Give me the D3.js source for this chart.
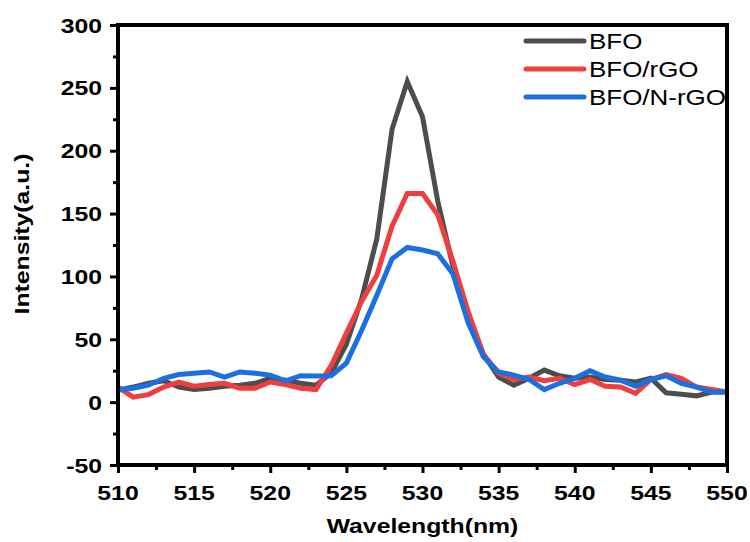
<!DOCTYPE html>
<html>
<head>
<meta charset="utf-8">
<script src="https://cdn.jsdelivr.net/npm/d3@7"></script>
<style>
  html, body { margin: 0; padding: 0; background: #fff; }
  svg { display: block; }
  text { font-family: "Liberation Sans", Arial, sans-serif; }
</style>
</head>
<body>
<script>
// Wavelength grid (nm) and measured intensities for each sample
const wavelength = d3.range(510, 551, 1);

const bfo = [
  9.5, 12, 15, 17, 12, 10, 11, 12.7, 13.5, 15,
  19, 17.5, 15, 13.5, 23, 46, 82, 130, 217, 255,
  227, 160, 108, 68, 38, 20, 13.5, 19, 25.5, 21,
  19, 20, 18, 17.5, 16, 19, 7.4, 6.3, 5, 8, 8
];
const bfoRgo = [
  12, 4, 6, 12, 16, 12.7, 14, 15, 11, 11,
  16, 14, 11, 10, 29, 55, 80, 101, 140, 166,
  166, 149, 112, 72, 38, 23, 18, 20, 17, 19,
  14, 18, 12.7, 12, 7, 18, 22, 19, 12, 10, 8
];
const bfoNrgo = [
  10, 11, 13.5, 19, 22, 23, 24, 20, 24, 23,
  21.5, 17, 21, 20.7, 21, 31, 57, 85, 114, 123,
  121, 118, 102, 63, 36, 24, 21.5, 18, 10, 15,
  19, 25, 20, 17.5, 12.7, 18, 21, 15, 12, 8, 8
];

const seriesNames = ["BFO", "BFO/rGO", "BFO/N-rGO"];
const seriesValues = [bfo, bfoRgo, bfoNrgo];
const seriesColors = ["#4d4d4d", "#ef3e3e", "#1c6fe0"];

const xTicks = [510, 515, 520, 525, 530, 535, 540, 545, 550];
const yTicks = [-50, 0, 50, 100, 150, 200, 250, 300];

const W = 750, H = 542;
const plot = { left: 118, right: 727, top: 25, bottom: 465 };

const svg = d3.select("body").append("svg")
  .attr("width", W).attr("height", H);

const x = d3.scaleLinear().domain([510, 550]).range([plot.left, plot.right]);
const y = d3.scaleLinear().domain([-50, 300]).range([plot.bottom, plot.top]);

// text helper with a slight horizontal stretch
const SX = 1.18;
function label(g, tx, ty, str, opts) {
  return g.append("text")
    .attr("transform", `translate(${tx},${ty}) scale(${opts.sx || SX},1)`)
    .attr("text-anchor", opts.anchor || "middle")
    .attr("font-size", opts.size)
    .attr("font-weight", opts.weight || "bold")
    .attr("fill", "#000")
    .text(str);
}

// data lines
const line = d3.line()
  .x((d, i) => x(wavelength[i]))
  .y(d => y(d));

const gLines = svg.append("g");
seriesValues.forEach((vals, k) => {
  gLines.append("path")
    .datum(vals)
    .attr("d", line)
    .attr("fill", "none")
    .attr("stroke", seriesColors[k])
    .attr("stroke-width", 5)
    .attr("stroke-linejoin", "miter")
    .attr("stroke-miterlimit", 3);
});

// axes with major and minor ticks
const xMinor = d3.range(510, 550.1, 2.5).filter(v => !xTicks.includes(v));
const yMinor = d3.range(-50, 300.1, 25).filter(v => !yTicks.includes(v));

const gx = svg.append("g").attr("transform", `translate(0,${plot.bottom})`);
gx.call(d3.axisBottom(x).tickValues(xTicks).tickSize(8).tickFormat(""));
gx.append("g").call(d3.axisBottom(x).tickValues(xMinor).tickSize(5).tickFormat(""));
gx.selectAll(".domain").remove();
gx.selectAll("line").attr("stroke", "#000").attr("stroke-width", 3);

const gy = svg.append("g").attr("transform", `translate(${plot.left},0)`);
gy.call(d3.axisLeft(y).tickValues(yTicks).tickSize(8).tickFormat(""));
gy.append("g").call(d3.axisLeft(y).tickValues(yMinor).tickSize(5).tickFormat(""));
gy.selectAll(".domain").remove();
gy.selectAll("line").attr("stroke", "#000").attr("stroke-width", 3);

// frame
svg.append("rect")
  .attr("x", plot.left).attr("y", plot.top)
  .attr("width", plot.right - plot.left).attr("height", plot.bottom - plot.top)
  .attr("fill", "none").attr("stroke", "#000").attr("stroke-width", 4);

// tick labels
const gLab = svg.append("g");
xTicks.forEach(v => label(gLab, x(v), plot.bottom + 35, String(v), { size: 21 }));
yTicks.forEach(v => label(gLab, plot.left - 16, y(v) + 7.5, String(v), { size: 21, anchor: "end" }));

// axis titles
label(gLab, (plot.left + plot.right) / 2, 533, "Wavelength(nm)", { size: 21 });
gLab.append("text")
  .attr("transform", `translate(29,234) scale(1,${SX}) rotate(-90)`)
  .attr("text-anchor", "middle")
  .attr("font-size", 21)
  .attr("font-weight", "bold")
  .text("Intensity(a.u.)");

// legend
const gLeg = svg.append("g");
seriesNames.forEach((name, k) => {
  const ly = 41 + k * 28;
  gLeg.append("line")
    .attr("x1", 526).attr("x2", 584).attr("y1", ly).attr("y2", ly)
    .attr("stroke", seriesColors[k]).attr("stroke-width", 5)
    .attr("stroke-linecap", "round");
  label(gLeg, 589, ly + 8, name, { size: 22, anchor: "start", weight: "normal" });
});
</script>
</body>
</html>
